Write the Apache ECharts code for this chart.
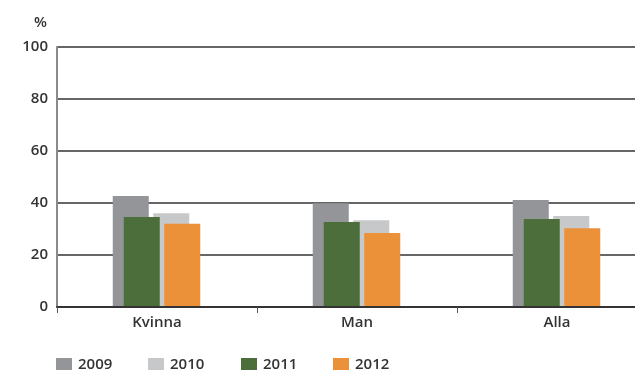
<!DOCTYPE html>
<html>
<head>
<meta charset="utf-8">
<script src="https://cdn.jsdelivr.net/npm/echarts@6/dist/echarts.min.js"></script>
<style>
  html, body { margin: 0; padding: 0; background: #fff; }
  #chart { width: 635px; height: 370px; }
</style>
</head>
<body>
<div id="chart"></div>
<script>
// Share of respondents (%) by group and year
const categories = ['Kvinna', 'Man', 'Alla'];
const years = ['2009', '2010', '2011', '2012'];
const values2009 = [42.7, 39.9, 41.2];
const values2010 = [36.1, 33.4, 35.0];
const values2011 = [34.6, 32.7, 33.8];
const values2012 = [32.0, 28.5, 30.3];
const yTicks = [0, 20, 40, 60, 80, 100];

const colors = ['#939598', '#c7c8ca', '#4b6e3a', '#ea913a'];
const font = '"Open Sans", "Noto Sans", sans-serif';
const textColor = '#333';
const textWeight = 600;

const chart = echarts.init(document.getElementById('chart'));

// Grid 0 carries the visible axes; grid 1 holds the back pair (2009/2010),
// grid 2 the front pair (2011/2012), shifted a little to the right.
const gridBase = { top: 47, height: 260, width: 600, outerBoundsMode: 'none', containLabel: false };
const grids = [
  Object.assign({ left: 57 }, gridBase),
  Object.assign({ left: 51 }, gridBase),
  Object.assign({ left: 62 }, gridBase)
];

const xAxes = grids.map((g, i) => ({
  type: 'category',
  gridIndex: i,
  data: categories,
  show: i === 0,
  axisLine: { show: true, lineStyle: { color: '#333', width: 2 } },
  axisTick: { show: true, length: 6, lineStyle: { color: '#555', width: 1 } },
  axisLabel: { color: textColor, fontFamily: font, fontSize: 15, fontWeight: textWeight, margin: 8 },
  z: 10
}));

const yAxes = grids.map((g, i) => ({
  type: 'value',
  gridIndex: i,
  min: yTicks[0],
  max: yTicks[yTicks.length - 1],
  interval: 20,
  show: i === 0,
  name: i === 0 ? '%' : '',
  nameLocation: 'end',
  nameGap: 17,
  nameTextStyle: { color: textColor, fontFamily: font, fontSize: 15, fontWeight: textWeight, align: 'right', padding: [0, 10, 0, 0] },
  axisLine: { show: true, lineStyle: { color: '#8a8a8a', width: 2 } },
  axisTick: { show: false },
  axisLabel: { color: textColor, fontFamily: font, fontSize: 15, fontWeight: textWeight, margin: 9 },
  splitLine: { show: i === 0, lineStyle: { color: '#333', width: 1.5 } }
}));

const seriesData = [values2009, values2010, values2011, values2012];
const series = seriesData.map((vals, i) => ({
  name: years[i],
  type: 'bar',
  xAxisIndex: i < 2 ? 1 : 2,
  yAxisIndex: i < 2 ? 1 : 2,
  data: vals,
  barWidth: 36,
  barGap: '12.5%',
  itemStyle: { color: colors[i] },
  z: i < 2 ? 2 : 3,
  animation: false
}));

const legendLeft = [56, 148, 241, 333];
const legends = years.map((y, i) => ({
  data: [y],
  left: legendLeft[i],
  top: 357,
  padding: 0,
  itemWidth: 16,
  itemHeight: 13,
  itemGap: 6,
  icon: 'rect',
  textStyle: { color: textColor, fontFamily: font, fontSize: 15, fontWeight: textWeight, padding: [0, 0, 0, 1] },
  selectedMode: false
}));

chart.setOption({
  animation: false,
  grid: grids,
  xAxis: xAxes,
  yAxis: yAxes,
  legend: legends,
  series: series
});
</script>
</body>
</html>
